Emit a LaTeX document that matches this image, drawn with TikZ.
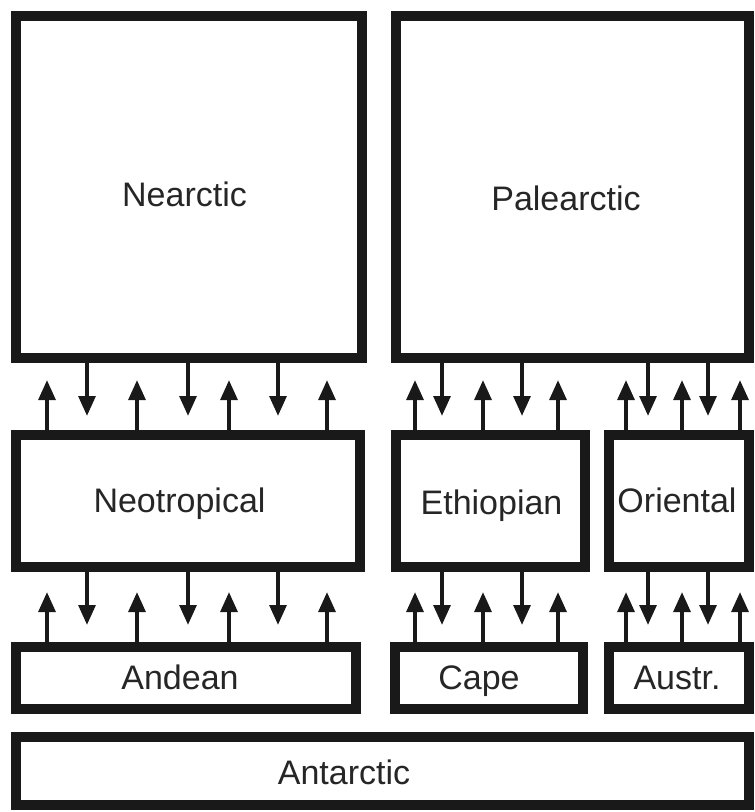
\documentclass[tikz,border=0pt]{standalone}
\usepackage{fontspec}
\setmainfont{Liberation Sans}
\usetikzlibrary{arrows.meta}

\begin{document}
\begin{tikzpicture}[
  x=0.75pt,y=-0.75pt,
  realm/.style={draw=black!90, line width=7.5pt, fill=white, inner sep=0pt, outer sep=0pt},
  realmname/.style={font=\fontsize{25.5}{30}\selectfont, text=black!85, inner sep=0pt, text height=18.3pt, text depth=0pt},
  upflow/.style={-{Triangle[length=15pt,width=12.5pt]}, draw=black!90, line width=3pt},
  downflow/.style={-{Triangle[length=15pt,width=12.5pt]}, draw=black!90, line width=3pt}
]
  \useasboundingbox (0,0) rectangle (754,812);

  % northern realms
  \node[realm, minimum width=259.5pt, minimum height=256.5pt] (nearc) at (189,187) {};
  \node[realm, minimum width=264.75pt, minimum height=256.5pt] (palea) at (572.5,187) {};
  \node[realmname] (nearcname) at (184.5,194.5) {Nearctic};
  \node[realmname] (paleaname) at (566,198) {Palearctic};

  % tropical realms
  \node[realm, minimum width=258pt, minimum height=99pt] (neot) at (188,501) {};
  \node[realm, minimum width=141.75pt, minimum height=99pt] (ethio) at (490.5,501) {};
  \node[realm, minimum width=105pt, minimum height=99pt] (orien) at (679,501) {};
  \node[realmname] (neotname) at (179.5,500) {Neotropical};
  \node[realmname] (ethioname) at (491.5,502) {Ethiopian};
  \node[realmname] (orienname) at (677,500) {Oriental};

  % southern realms
  \node[realm, minimum width=255pt, minimum height=46.5pt] (andes) at (186,678) {};
  \node[realm, minimum width=141pt, minimum height=46.5pt] (cape) at (489,678) {};
  \node[realm, minimum width=105pt, minimum height=46.5pt] (austr) at (679,678) {};
  \node[realm, minimum width=549.75pt, minimum height=51pt] (antarc) at (382.5,771) {};
  \node[realmname] (andesname) at (180,677) {Andean};
  \node[realmname] (capename) at (479,677) {Cape};
  \node[realmname] (austrname) at (677,677) {Austr.};
  \node[realmname] (antarcname) at (344,772) {Antarctic};

  % exchange between north and tropics
  \foreach \x in {47,137,229,327} \draw[upflow] (\x,0 |- neot.north) -- ++(0,-55);
  \foreach \x in {87,188,278} \draw[downflow] (\x,0 |- nearc.south) -- ++(0,58);
  \foreach \x in {415,483,558} \draw[upflow] (\x,0 |- ethio.north) -- ++(0,-55);
  \foreach \x in {442,522} \draw[downflow] (\x,0 |- palea.south) -- ++(0,58);
  \foreach \x in {626,682,740} \draw[upflow] (\x,0 |- orien.north) -- ++(0,-55);
  \foreach \x in {648,708} \draw[downflow] (\x,0 |- palea.south) -- ++(0,58);

  % exchange between tropics and south
  \foreach \x in {47,137,229,327} \draw[upflow] (\x,0 |- andes.north) -- ++(0,-55);
  \foreach \x in {87,188,278} \draw[downflow] (\x,0 |- neot.south) -- ++(0,58);
  \foreach \x in {415,483,558} \draw[upflow] (\x,0 |- cape.north) -- ++(0,-55);
  \foreach \x in {442,522} \draw[downflow] (\x,0 |- ethio.south) -- ++(0,58);
  \foreach \x in {626,682,740} \draw[upflow] (\x,0 |- austr.north) -- ++(0,-55);
  \foreach \x in {648,708} \draw[downflow] (\x,0 |- orien.south) -- ++(0,58);
\end{tikzpicture}
\end{document}
